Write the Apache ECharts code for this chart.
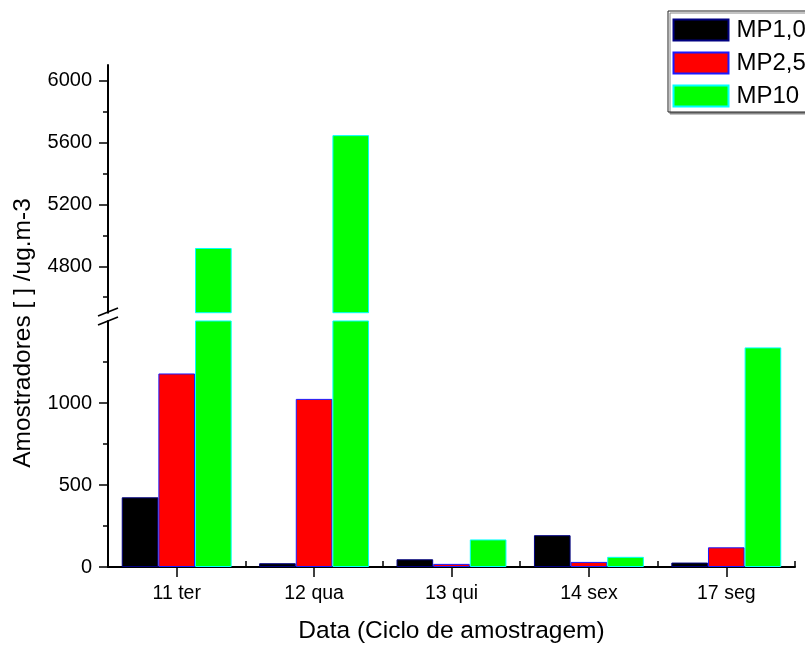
<!DOCTYPE html>
<html>
<head>
<meta charset="utf-8">
<script src="https://cdn.jsdelivr.net/npm/echarts@6/dist/echarts.min.js"></script>
<style>html,body{margin:0;padding:0;background:#fff;}#c{width:805px;height:645px;}</style>
</head>
<body>
<div id="c"></div>
<script>
var categories = ['11 ter', '12 qua', '13 qui', '14 sex', '17 seg'];
var seriesNames = ['MP1,0', 'MP2,5', 'MP10'];
var mp1 = [425, 23, 47, 194, 27];
var mp25 = [1180, 1025, 19, 31, 120];
var mp10 = [4918, 5647, 168, 62, 1339];
var lowerMajor = [0, 500, 1000];
var lowerMinor = [250, 750, 1250];
var upperMajor = [4800, 5200, 5600, 6000];
var upperMinor = [4600, 5000, 5400, 5800];
var lowerRange = [0, 1500];
var upperRange = [4500, 6100];

var FONT = 'Liberation Sans, Arial, sans-serif';
var fills = ['#000000', '#ff0000', '#00ff00'];
var borders = ['#000080', '#1a1aff', '#00ffff'];
var values = [mp1, mp25, mp10];

var chart = echarts.init(document.getElementById('c'), null, {renderer: 'canvas'});

function yAxisPair(gridIndex, range, major, minor) {
  return [{
    type: 'value', gridIndex: gridIndex, position: 'left', min: range[0], max: range[1],
    axisLine: {show: true, lineStyle: {color: '#000', width: 2}},
    axisTick: {show: true, inside: false, length: 9, customValues: major, lineStyle: {color: '#000', width: 1.5}},
    axisLabel: {show: true, customValues: major, margin: 16, color: '#000', fontSize: 20, fontFamily: FONT,
      formatter: function (v) { return String(v); }},
    splitLine: {show: false}
  }, {
    type: 'value', gridIndex: gridIndex, position: 'left', min: range[0], max: range[1],
    axisLine: {show: false},
    axisTick: {show: true, inside: false, length: 5, customValues: minor, lineStyle: {color: '#000', width: 1.5}},
    axisLabel: {show: false},
    splitLine: {show: false}
  }];
}

var series = [];
[[0, 0], [2, 2]].forEach(function (ax) {
  for (var i = 0; i < 3; i++) {
    series.push({
      name: seriesNames[i], type: 'bar', xAxisIndex: ax[0], yAxisIndex: ax[1],
      data: values[i], barGap: '0%', barCategoryGap: '20%', clip: true,
      itemStyle: {color: fills[i], borderColor: borders[i], borderWidth: 1},
      emphasis: {disabled: true}, animation: false
    });
  }
});

var option = {
  animation: false,
  backgroundColor: '#ffffff',
  textStyle: {fontFamily: FONT},
  grid: [
    {left: 108, right: 10, top: 321, bottom: 75.5, containLabel: false},
    {left: 108, right: 10, top: 65, height: 247.7, containLabel: false}
  ],
  legend: {
    data: seriesNames, orient: 'vertical', left: 668, top: 11,
    icon: 'rect', itemWidth: 55, itemHeight: 21, itemGap: 9,
    padding: [7, 12, 4, 4.5],
    borderColor: '#222', borderWidth: 1, backgroundColor: '#fff',
    shadowColor: '#888', shadowOffsetX: 2, shadowOffsetY: 2, shadowBlur: 0,
    textStyle: {fontSize: 24, color: '#000', fontFamily: FONT, lineHeight: 21, padding: [0, 0, 0, 3]},
    selectedMode: false
  },
  xAxis: [{
    type: 'category', gridIndex: 0, data: categories,
    name: 'Data (Ciclo de amostragem)', nameLocation: 'middle', nameGap: 52,
    nameTextStyle: {fontSize: 24.5, color: '#000', fontFamily: FONT},
    axisLine: {show: true, lineStyle: {color: '#000', width: 2}},
    axisTick: {show: true, alignWithLabel: true, length: 10, lineStyle: {color: '#000', width: 1.5}},
    axisLabel: {show: true, margin: 17, color: '#000', fontSize: 19.5, fontFamily: FONT},
    splitLine: {show: false}
  }, {
    type: 'category', gridIndex: 0, data: categories,
    axisLine: {show: false},
    axisTick: {show: true, alignWithLabel: false, length: 6, lineStyle: {color: '#000', width: 1.5}},
    axisLabel: {show: false}, splitLine: {show: false}
  }, {
    type: 'category', gridIndex: 1, data: categories, show: false
  }],
  yAxis: [].concat(yAxisPair(0, lowerRange, lowerMajor, lowerMinor), yAxisPair(1, upperRange, upperMajor, upperMinor)),
  series: series,
  graphic: [
    {type: 'line', shape: {x1: 98, y1: 316, x2: 118, y2: 308}, style: {stroke: '#000', lineWidth: 1.8}, z: 100},
    {type: 'line', shape: {x1: 98, y1: 325, x2: 118, y2: 317}, style: {stroke: '#000', lineWidth: 1.8}, z: 100},
    {type: 'text', x: 23, y: 333, rotation: Math.PI / 2,
     style: {text: 'Amostradores [ ] /ug.m-3', fontSize: 24.5, fontFamily: FONT, fill: '#000', textAlign: 'center', textVerticalAlign: 'middle'}}
  ]
};
chart.setOption(option);
</script>
</body>
</html>
